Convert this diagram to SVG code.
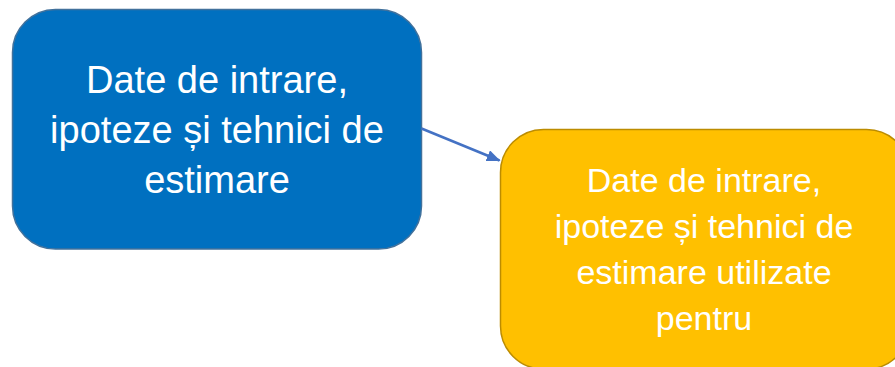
<svg xmlns="http://www.w3.org/2000/svg" width="895" height="367" viewBox="0 0 895 367">
<defs>
<style>
.lbl{font-family:"Liberation Sans",Arial,sans-serif;fill:#ffffff;text-anchor:middle}
.blue{fill:#0070C0;stroke:#41719C;stroke-width:1.5}
.yellow{fill:#FFC000;stroke:#BC8C00;stroke-width:1.5}
.conn{stroke:#4472C4;stroke-width:2.5;fill:none}
</style>
<marker id="ah" viewBox="0 0 12 10" refX="11" refY="5" markerWidth="5.6" markerHeight="4.6" markerUnits="strokeWidth" orient="auto">
<path d="M0,0 L12,5 L0,10 z" fill="#4472C4"/>
</marker>
</defs>
<rect width="895" height="367" fill="#ffffff"/>
<g id="node-blue">
<rect class="blue" x="12.5" y="9.5" width="409" height="239.5" rx="43" ry="43"/>
<text class="lbl" font-size="38" x="217" y="93">Date de intrare,</text>
<text class="lbl" font-size="38" x="217" y="143">ipoteze și tehnici de</text>
<text class="lbl" font-size="38" x="217" y="193">estimare</text>
</g>
<g id="node-yellow">
<rect class="yellow" x="500.5" y="129.5" width="409" height="239.5" rx="43" ry="43"/>
<text class="lbl" font-size="34" x="704" y="192">Date de intrare,</text>
<text class="lbl" font-size="34" x="704" y="238">ipoteze și tehnici de</text>
<text class="lbl" font-size="34" x="704" y="284">estimare utilizate</text>
<text class="lbl" font-size="34" x="704" y="330">pentru</text>
</g>
<g id="connectors">
<line class="conn" x1="421.5" y1="128.5" x2="499.5" y2="160.5" marker-end="url(#ah)"/>
</g>
</svg>
